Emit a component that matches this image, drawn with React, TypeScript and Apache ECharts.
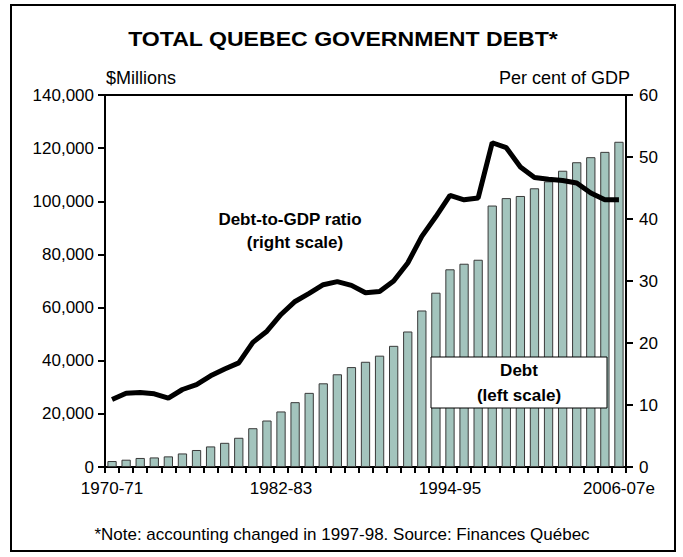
import React, { useEffect, useRef } from "react";
import * as echarts from "echarts";

const years: string[] = [
  "1970-71","1971-72","1972-73","1973-74","1974-75","1975-76","1976-77","1977-78","1978-79","1979-80",
  "1980-81","1981-82","1982-83","1983-84","1984-85","1985-86","1986-87","1987-88","1988-89","1989-90",
  "1990-91","1991-92","1992-93","1993-94","1994-95","1995-96","1996-97","1997-98","1998-99","1999-00",
  "2000-01","2001-02","2002-03","2003-04","2004-05","2005-06","2006-07e",
];

const debt: number[] = [
  2250, 2750, 3400, 3600, 4000, 5100, 6400, 7750, 9100, 11000,
  14600, 17500, 20900, 24400, 27900, 31500, 34900, 37600, 39600, 41900,
  45600, 51000, 58900, 65600, 74400, 76500, 78000, 98400, 101200, 102000,
  104900, 107500, 111500, 114700, 116600, 118600, 122400,
];

const ratio: number[] = [
  10.9, 11.9, 12.0, 11.8, 11.1, 12.5, 13.3, 14.7, 15.8, 16.8,
  20.1, 21.9, 24.6, 26.7, 28.0, 29.4, 29.9, 29.3, 28.1, 28.3,
  30.0, 32.9, 37.2, 40.4, 43.8, 43.1, 43.4, 52.3, 51.5, 48.4,
  46.7, 46.4, 46.2, 45.8, 44.2, 43.1, 43.1,
];

const FONT = "'Liberation Sans', Arial, sans-serif";

export default function App() {
  const ref = useRef<HTMLDivElement>(null);
  useEffect(() => {
    if (!ref.current) return;
    const chart = echarts.init(ref.current, null, { renderer: "svg" });
    chart.setOption({
      animation: false,
      backgroundColor: "#ffffff",
      textStyle: { fontFamily: FONT },
      grid: { left: 105, right: 57, top: 95, bottom: 90, show: true, borderColor: "#000", borderWidth: 2, backgroundColor: "transparent" },
      xAxis: {
        type: "category",
        data: years,
        boundaryGap: true,
        axisLine: { lineStyle: { color: "#000", width: 2 } },
        axisTick: { show: true, interval: 0, length: 6, lineStyle: { color: "#000", width: 2 } },
        axisLabel: { interval: 11, color: "#000", fontSize: 17, fontFamily: FONT, margin: 13 },
        splitLine: { show: false },
      },
      yAxis: [
        {
          type: "value",
          min: 0,
          max: 140000,
          interval: 20000,
          position: "left",
          axisLine: { show: true, lineStyle: { color: "#000", width: 2 } },
          axisTick: { show: true, length: 7, lineStyle: { color: "#000", width: 2 } },
          axisLabel: {
            color: "#000",
            fontSize: 17,
            fontFamily: FONT,
            margin: 11,
            formatter: (v: number) => v.toLocaleString("en-US"),
          },
          splitLine: { show: false },
        },
        {
          type: "value",
          min: 0,
          max: 60,
          interval: 10,
          position: "right",
          axisLine: { show: true, lineStyle: { color: "#000", width: 2 } },
          axisTick: { show: true, length: 7, lineStyle: { color: "#000", width: 2 } },
          axisLabel: { color: "#000", fontSize: 17, fontFamily: FONT, margin: 13 },
          splitLine: { show: false },
        },
      ],
      series: [
        {
          type: "bar",
          name: "Debt",
          data: debt,
          yAxisIndex: 0,
          barCategoryGap: "34%",
          itemStyle: { color: "#a3c4bd", borderColor: "#3a3a3a", borderWidth: 1 },
        },
        {
          type: "line",
          name: "Debt-to-GDP ratio",
          data: ratio,
          yAxisIndex: 1,
          showSymbol: false,
          symbol: "none",
          lineStyle: { color: "#000", width: 5 },
          z: 5,
        },
      ],
      graphic: [
        {
          type: "rect",
          shape: { x: 11, y: 5, width: 664, height: 546 },
          style: { fill: "none", stroke: "#000", lineWidth: 2 },
          z: 100,
        },
        {
          type: "text",
          x: 343,
          y: 39,
          scaleX: 1.1,
          style: { text: "TOTAL QUEBEC GOVERNMENT DEBT*", font: `bold 21px ${FONT}`, fill: "#000", textAlign: "center", textVerticalAlign: "middle" },
        },
        {
          type: "text",
          x: 106,
          y: 78,
          style: { text: "$Millions", font: `18px ${FONT}`, fill: "#000", textAlign: "left", textVerticalAlign: "middle" },
        },
        {
          type: "text",
          x: 630,
          y: 78,
          style: { text: "Per cent of GDP", font: `18px ${FONT}`, fill: "#000", textAlign: "right", textVerticalAlign: "middle" },
        },
        {
          type: "text",
          x: 290,
          y: 219,
          style: { text: "Debt-to-GDP ratio", font: `bold 17px ${FONT}`, fill: "#000", textAlign: "center", textVerticalAlign: "middle" },
          z: 10,
        },
        {
          type: "text",
          x: 295,
          y: 242,
          style: { text: "(right scale)", font: `bold 17px ${FONT}`, fill: "#000", textAlign: "center", textVerticalAlign: "middle" },
          z: 10,
        },
        {
          type: "rect",
          shape: { x: 431, y: 357, width: 176, height: 51 },
          style: { fill: "#fff", stroke: "#000", lineWidth: 1 },
          z: 10,
        },
        {
          type: "text",
          x: 519,
          y: 370,
          style: { text: "Debt", font: `bold 17px ${FONT}`, fill: "#000", textAlign: "center", textVerticalAlign: "middle" },
          z: 11,
        },
        {
          type: "text",
          x: 519,
          y: 395,
          style: { text: "(left scale)", font: `bold 17px ${FONT}`, fill: "#000", textAlign: "center", textVerticalAlign: "middle" },
          z: 11,
        },
        {
          type: "text",
          x: 342,
          y: 534,
          style: { text: "*Note: accounting changed in 1997-98. Source: Finances Québec", font: `17px ${FONT}`, fill: "#000", textAlign: "center", textVerticalAlign: "middle" },
        },
      ],
    });
    return () => chart.dispose();
  }, []);
  return (
    <div
      ref={ref}
      style={{ position: "fixed", left: 0, top: 0, width: 683, height: 557, background: "#fff" }}
    />
  );
}
